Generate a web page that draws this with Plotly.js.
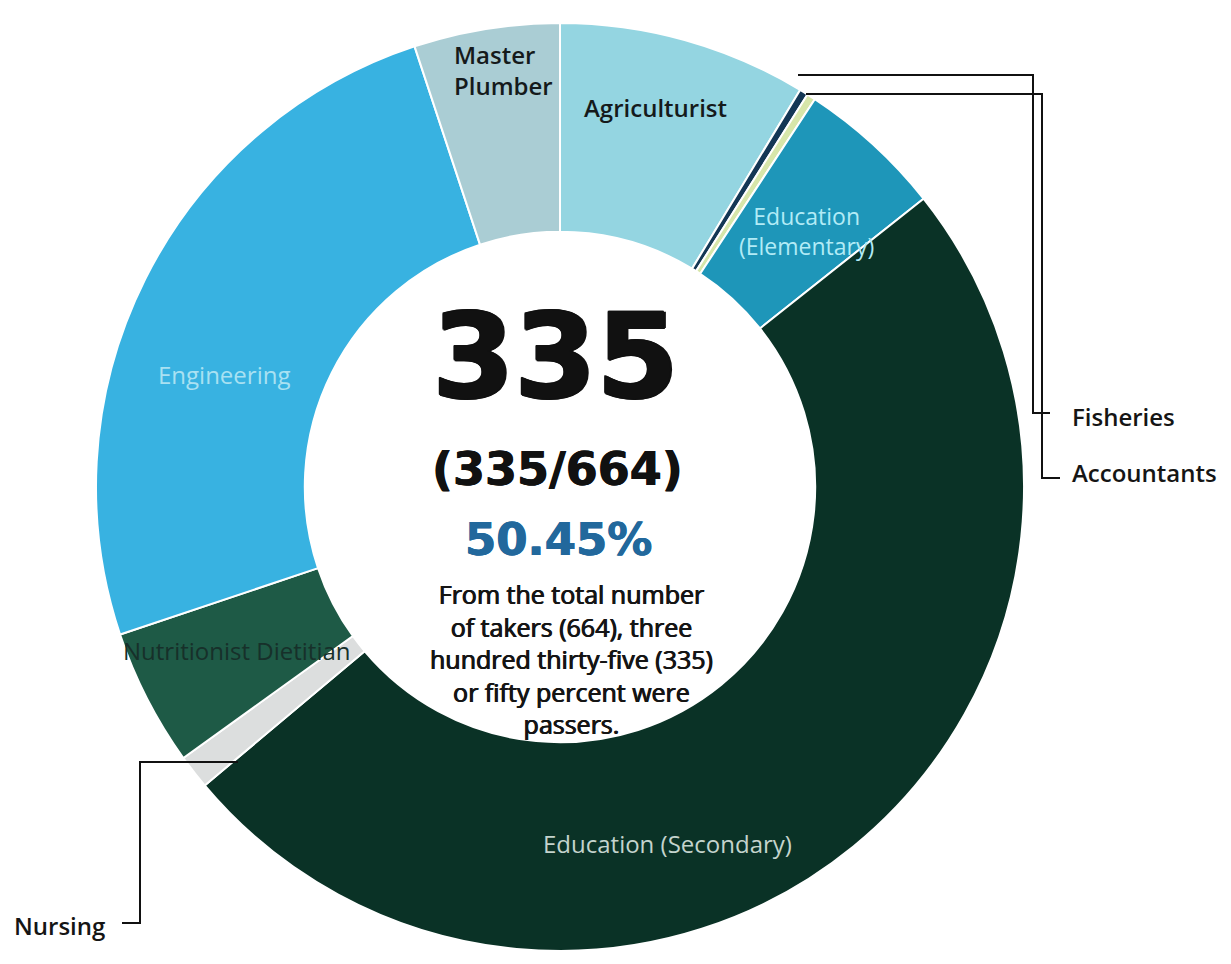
<!DOCTYPE html>
<html>
<head>
<meta charset="utf-8">
<script src="https://cdn.plot.ly/plotly-3.0.1.min.js"></script>
<style>html,body{margin:0;padding:0;background:#fff;}#chart{width:1231px;height:964px;}</style>
</head>
<body>
<div id="chart"></div>
<script>
// ---- data ----
const categories = ["Agriculturist", "Fisheries", "Accountants", "Education (Elementary)", "Education (Secondary)", "Nursing", "Nutritionist Dietitian", "Engineering", "Master Plumber"];
const passers = [29, 1, 1, 17, 166, 4, 16, 84, 17];
const totalPassers = 335;
const totalTakers = 664;
const passRate = "50.45%";
const description = ["From the total number", "of takers (664), three", "hundred thirty-five (335)", "or fifty percent were", "passers."];

// ---- styles ----
const colors = ["#94d5e1", "#143755", "#d7e6aa", "#1e96b9", "#0a3226", "#dcdede", "#1e5a46", "#38b2e1", "#aacdd4"];
const W = 1231, H = 964;
const px = x => x / W;
const py = y => 1 - y / H;
const FONT = "Open Sans, sans-serif";
const WEIGHT = 600;
const heavy = c => `2px 0 0 ${c}, -1px 0 0 ${c}, 0 1px 0 ${c}, 0 -1px 0 ${c}, 1px 1px 0 ${c}, -1px -1px 0 ${c}`;
const medium = c => `0.5px 0 0 ${c}, -0.5px 0 0 ${c}`;

// inside-slice label placement (pixels) and colours
const insideLabels = {
  "Master Plumber": {x: 452, y: 70, color: "#151a1b", xanchor: "left", align: "left", size: 24, text: "Master<br>Plumber"},
  "Agriculturist": {x: 655, y: 107, color: "#151a1b", size: 24},
  "Education (Elementary)": {x: 806, y: 231, color: "#b2ebf6", size: 23, text: "Education<br>(Elementary)", weight: 400},
  "Engineering": {x: 224, y: 375, color: "#a9e1f2", size: 24, weight: 400},
  "Nutritionist Dietitian": {x: 237, y: 650, color: "#17302a", size: 24, weight: 400},
  "Education (Secondary)": {x: 667, y: 843, color: "#c4d4cd", size: 24, weight: 400}
};
// outside labels with leader lines (pixels)
const outsideLabels = {
  "Fisheries": {x: 1070, y: 416, path: [[798, 75], [1033, 75], [1033, 413], [1050, 413]]},
  "Accountants": {x: 1070, y: 472, path: [[806, 94], [1042, 94], [1042, 478], [1060, 478]]},
  "Nursing": {x: 107, y: 925, xanchor: "right", path: [[238, 762], [140, 762], [140, 923], [122, 923]]}
};

const trace = {
  type: "pie",
  labels: categories,
  values: passers,
  sort: false,
  direction: "clockwise",
  rotation: 0,
  hole: 0.55,
  textinfo: "none",
  hoverinfo: "label+value",
  marker: {colors: colors, line: {color: "#ffffff", width: 2}},
  domain: {x: [px(560 - 500), px(560 + 500)], y: [py(951), py(23)]},
  showlegend: false
};

const annotations = [];
const shapes = [];
categories.forEach(c => {
  const L = insideLabels[c];
  if (L) {
    annotations.push({
      xref: "paper", yref: "paper", x: px(L.x), y: py(L.y),
      xanchor: L.xanchor || "center", yanchor: "middle", align: L.align || "center",
      text: L.text || c, showarrow: false,
      font: {family: FONT, size: L.size, color: L.color, weight: L.weight || WEIGHT}
    });
  }
  const O = outsideLabels[c];
  if (O) {
    annotations.push({
      xref: "paper", yref: "paper", x: px(O.x), y: py(O.y),
      xanchor: O.xanchor || "left", yanchor: "middle",
      text: c, showarrow: false,
      font: {family: FONT, size: 24, color: "#151515", weight: WEIGHT}
    });
    const d = O.path.map((p, i) => (i ? "L" : "M") + px(p[0]) + "," + py(p[1])).join(" ");
    shapes.push({type: "path", xref: "paper", yref: "paper", path: d, line: {color: "#111", width: 2}});
  }
});

// centre texts
annotations.push({xref: "paper", yref: "paper", x: px(555), y: py(356), xanchor: "center", yanchor: "middle",
  text: "<b>" + totalPassers + "</b>", showarrow: false,
  font: {family: "DejaVu Sans", size: 118, color: "#111111", shadow: heavy("#111111")}});
annotations.push({xref: "paper", yref: "paper", x: px(557), y: py(469), xanchor: "center", yanchor: "middle",
  text: "<b>(" + totalPassers + "/" + totalTakers + ")</b>", showarrow: false,
  font: {family: "DejaVu Sans", size: 46, color: "#111111", shadow: medium("#111111")}});
annotations.push({xref: "paper", yref: "paper", x: px(558), y: py(539), xanchor: "center", yanchor: "middle",
  text: "<b>" + passRate + "</b>", showarrow: false,
  font: {family: "DejaVu Sans", size: 45, color: "#22689c", shadow: medium("#22689c")}});
annotations.push({xref: "paper", yref: "paper", x: px(571), y: py(659), xanchor: "center", yanchor: "middle", align: "center",
  text: description.join("<br>"), showarrow: false,
  font: {family: FONT, size: 25, color: "#151515", shadow: medium("#151515")}});

const layout = {
  width: W, height: H,
  margin: {l: 0, r: 0, t: 0, b: 0},
  paper_bgcolor: "#ffffff",
  annotations: annotations,
  shapes: shapes
};

Plotly.newPlot("chart", [trace], layout, {displayModeBar: false, staticPlot: true});
</script>
</body>
</html>
